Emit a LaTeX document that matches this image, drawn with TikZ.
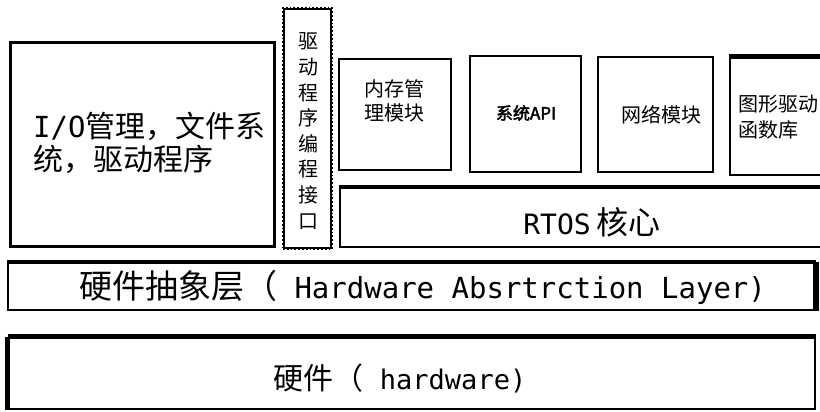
\documentclass[tikz,border=0pt]{standalone}
\usepackage{fontspec}
\setmainfont{Noto Sans CJK SC}
\newfontfamily\lat{DejaVu Sans Mono}
\newfontfamily\cjkb[FakeBold=2.5]{Noto Sans CJK SC}
\newcommand{\fsz}[2]{\fontsize{#1}{#2}\selectfont}
\begin{document}
\begin{tikzpicture}[x=1pt,y=-1pt,
  box/.style={draw, rectangle, inner sep=0pt, line width=2.5pt},
  thinbox/.style={box, line width=1.8pt},
  lbl/.style={inner sep=0pt, align=center},
  lbll/.style={inner sep=0pt, align=left, anchor=west}]
\useasboundingbox (0,0) rectangle (820,412);
\fill[white] (0,0) rectangle (820,412);
\clip (0,0) rectangle (820,412);

% left big box
\node[box, line width=3pt, minimum width=264pt, minimum height=203pt] (io) at (142,144.5) {};
\node[lbll, font=\fsz{30}{33}] (iot) at (33,143) {{\fsz{29}{33}\lat I/O}管理，文件系\\统，驱动程序};

% vertical driver API box
\node[thinbox, dotted, line width=1.2pt, minimum width=49pt, minimum height=241pt] (drv) at (307.5,128.5) {};
\node[thinbox, minimum width=47pt, minimum height=239pt] (drvin) at (307.5,128.5) {};
\node[lbl, font=\fsz{20}{25.6}] (drvt) at (308,131) {驱\\动\\程\\序\\编\\程\\接\\口};

% memory
\node[box, minimum width=112pt, minimum height=111pt] (mem) at (395,114.5) {};
\node[lbl, font=\fsz{20}{24}] (memt) at (394,101) {内存管\\理模块};

% system API
\node[thinbox, minimum width=111pt, minimum height=116pt] (api) at (525.5,114) {};
\node[lbl, font=\fsz{17}{17}\cjkb] (apit) at (526,113) {系统API};

% network
\node[box, minimum width=115pt, minimum height=115pt] (net) at (655.5,114.5) {};
\node[lbl, font=\fsz{20}{20}] (nett) at (661,115) {网络模块};

% graphics
\node[box, minimum width=100pt, minimum height=117pt] (gfx) at (780,116.5) {};
\draw[line width=5pt] (gfx.north west) -- (gfx.north east);
\node[lbll, font=\fsz{20}{26}] (gfxt) at (738,117) {图形驱动\\函数库};

% RTOS kernel
\node[thinbox, minimum width=490pt, minimum height=59pt] (rtos) at (585,217.5) {};
\draw[line width=4pt] (rtos.north west) -- (rtos.north east);
\node[lbl, font=\fsz{32}{32}] (rtost) at (592,222) {{\fsz{28}{30}\lat RTOS}\hspace{6pt}核心};

% HAL
\node[thinbox, minimum width=807pt, minimum height=47pt] (hal) at (411.5,286.5) {};
\draw[line width=4pt] (hal.north west) -- (hal.north east);
\draw[line width=6pt] (hal.north east) -- (hal.south east);
\node[lbl, font=\fsz{33}{33}] (halt) at (422.5,287) {硬件抽象层（{\fsz{29}{33}\lat\ Hardware Absrtrction Layer)}};

% hardware
\node[box, minimum width=806pt, minimum height=71pt] (hw) at (412,373.5) {};
\draw[line width=5pt] (hw.north west) -- (hw.north east);
\draw[line width=5pt] (hw.north west) -- (hw.south west);
\node[lbl, font=\fsz{30}{30}] (hwt) at (400,378) {硬件（{\fsz{27}{30}\lat\ hardware)}};
\end{tikzpicture}
\end{document}
